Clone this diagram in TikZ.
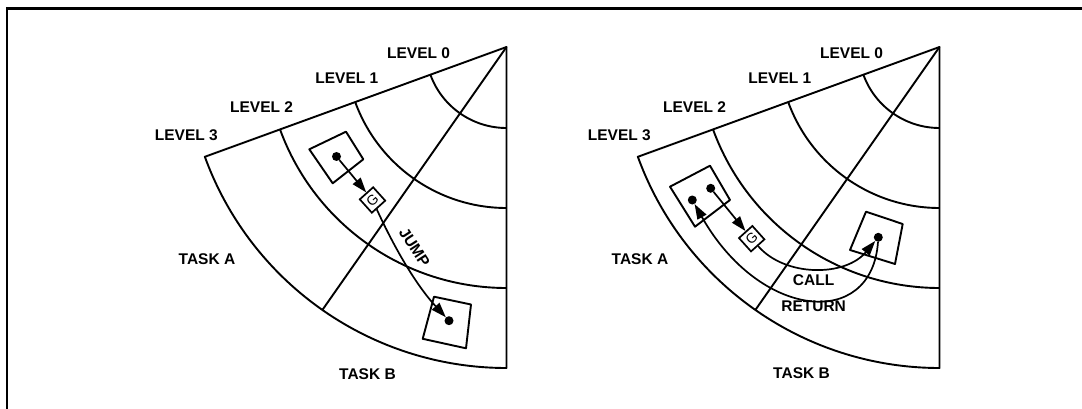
\documentclass[tikz,border=0pt]{standalone}
\usepackage{fontspec}
\setmainfont{Liberation Sans}
\usetikzlibrary{arrows.meta}
\begin{document}
\begin{tikzpicture}[x=1pt,y=1pt,
  fan/.style={line width=1.9pt, line join=round},
  lbl/.style={font=\fontsize{15.5}{15.5}\selectfont\bfseries, inner sep=0pt},
  dotnode/.style={circle, fill=black, inner sep=0pt, minimum size=9pt},
  gbox/.style={draw, line width=1.7pt, minimum size=18pt, inner sep=0pt, font=\fontsize{14}{14}\selectfont, rotate=42},
  framel/.style={line width=2.6pt},
  qbox/.style={line width=1.9pt, line join=round},
  arr/.style={line width=1.7pt, -{Triangle[length=15pt,width=10pt]}},
]
\useasboundingbox (0,0) rectangle (1082,-409);
\draw[framel] (7,-409) -- (7,-8.7) -- (1082,-8.7);
% the two fans
\foreach \cx in {506.5, 939.5} {
  \begin{scope}[shift={(\cx,-47)}]
    \draw[fan] (0,0) -- (200:321) arc[start angle=200, end angle=270, radius=321] -- cycle;
    \foreach \r in {81,161,241} \draw[fan] (200:\r) arc[start angle=200, end angle=270, radius=\r];
    \draw[fan] (0,0) -- (235:321);
  \end{scope}
}
% boxes
\draw[qbox] (309.3,-149.3) -- (346,-131.7) -- (363.3,-159.3) -- (332.7,-183.3) -- cycle;
\draw[qbox] (434,-296.7) -- (471,-304.5) -- (466,-348.3) -- (422.7,-338.8) -- cycle;
\draw[qbox] (670,-186.7) -- (710,-165.7) -- (730,-200) -- (695,-226.7) -- cycle;
\draw[qbox] (866,-211.7) -- (902.7,-224) -- (895,-264) -- (850,-250) -- cycle;
% dots
\node[dotnode] (d1) at (336.5,-156.5) {};
\node[dotnode] (d2) at (449,-320.7) {};
\node[dotnode] (e1) at (692.3,-200) {};
\node[dotnode] (e2) at (710.7,-188.3) {};
\node[dotnode] (e3) at (878.3,-237.3) {};
% gates
\node[gbox] (g1) at (372.5,-200) {G};
\node[gbox] (g2) at (751.7,-238.7) {G};
% connectors
\draw[arr] (d1) -- (g1);
\draw[arr] (e2) -- (g2);
\draw[arr] (g1) .. controls (394.8,-248.8) and (416.4,-285.4) .. (d2);
\draw[arr] (g2) .. controls (785,-277) and (845,-277) .. (e3);
\draw[arr] (e3) .. controls (872,-330) and (760,-320) .. (e1);
% labels left
\node[lbl] (la0) at (418.6,-53) {LEVEL 0};
\node[lbl] (la1) at (346.8,-78) {LEVEL 1};
\node[lbl] (la2) at (261.6,-107) {LEVEL 2};
\node[lbl] (la3) at (186.3,-135) {LEVEL 3};
\node[lbl] (ta1) at (207,-259) {TASK A};
\node[lbl] (tb1) at (367.5,-374) {TASK B};
\node[lbl, rotate=-57] (jump) at (414.5,-247.5) {JUMP};
% labels right
\node[lbl] (lb0) at (851.6,-53) {LEVEL 0};
\node[lbl] (lb1) at (779.8,-78) {LEVEL 1};
\node[lbl] (lb2) at (694.6,-107) {LEVEL 2};
\node[lbl] (lb3) at (619.3,-135) {LEVEL 3};
\node[lbl] (ta2) at (640,-259) {TASK A};
\node[lbl] (tb2) at (801.5,-373) {TASK B};
\node[lbl] (call) at (813.6,-280) {CALL};
\node[lbl] (ret) at (813.6,-306) {RETURN};
\end{tikzpicture}
\end{document}
